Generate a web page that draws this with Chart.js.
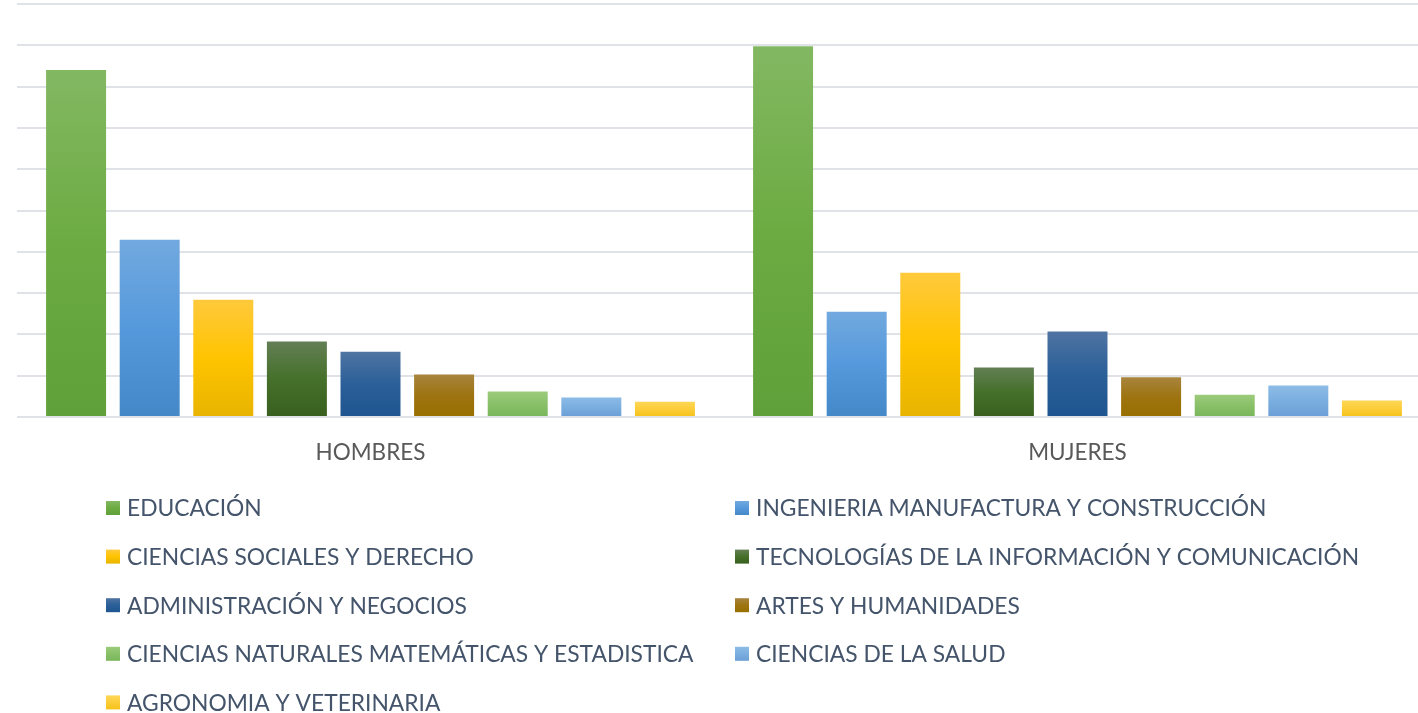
<!DOCTYPE html>
<html>
<head>
<meta charset="utf-8">
<script src="https://cdn.jsdelivr.net/npm/chart.js@4"></script>
<style>
  html, body { margin: 0; padding: 0; background: #fff; overflow: hidden; }
  #wrap { width: 1440px; height: 713px; position: relative; }
</style>
</head>
<body>
<div id="wrap"><canvas id="chart"></canvas></div>
<script>
const categories = ['HOMBRES', 'MUJERES'];

const seriesNames = [
  'EDUCACIÓN',
  'INGENIERIA MANUFACTURA Y CONSTRUCCIÓN',
  'CIENCIAS SOCIALES Y DERECHO',
  'TECNOLOGÍAS DE LA INFORMACIÓN Y COMUNICACIÓN',
  'ADMINISTRACIÓN Y NEGOCIOS',
  'ARTES Y HUMANIDADES',
  'CIENCIAS NATURALES MATEMÁTICAS Y ESTADISTICA',
  'CIENCIAS DE LA SALUD',
  'AGRONOMIA Y VETERINARIA'
];

// values per series: [HOMBRES, MUJERES]
const educacion = [84.0, 89.8];
const ingenieria = [42.9, 25.5];
const socialesDerecho = [28.4, 34.9];
const tecnologias = [18.3, 12.0];
const administracion = [15.8, 20.7];
const artes = [10.3, 9.6];
const naturales = [6.2, 5.4];
const salud = [4.7, 7.6];
const agronomia = [3.7, 4.0];

const seriesValues = [educacion, ingenieria, socialesDerecho, tecnologias, administracion, artes, naturales, salud, agronomia];

// gradient stops top -> middle -> bottom
const seriesColors = [
  ['#83b862', '#6cab42', '#60a03a'],
  ['#72a9df', '#5599dc', '#4488c8'],
  ['#ffc93c', '#ffc400', '#e8b400'],
  ['#637f55', '#45702a', '#385f1f'],
  ['#4f74a2', '#2a5f98', '#1f5590'],
  ['#a8843e', '#9d7410', '#986f00'],
  ['#9ccb7b', '#88c068', '#79b65a'],
  ['#8cbbe6', '#7aaee0', '#6b9fd6'],
  ['#ffd657', '#fccd38', '#f4c21a']
];

function barGradient(stops) {
  return function (context) {
    const chart = context.chart;
    const area = chart.chartArea;
    if (!area || context.parsed === undefined) return stops[1];
    const y = chart.scales.y;
    const top = y.getPixelForValue(context.parsed.y);
    const bottom = y.getPixelForValue(0);
    if (!isFinite(top) || bottom - top < 1) return stops[1];
    const g = chart.ctx.createLinearGradient(0, top, 0, bottom);
    g.addColorStop(0, stops[0]);
    g.addColorStop(0.5, stops[1]);
    g.addColorStop(1, stops[2]);
    return g;
  };
}

const legendFont = '22.8px Lato';
const legendColor = '#44546a';

// two-column legend drawn under the plot
const columnLegend = {
  id: 'columnLegend',
  afterDraw(chart) {
    const ctx = chart.ctx;
    const colX = [106, 735];
    const rowY0 = 508;
    const rowStep = 48.6;
    const box = 14;
    ctx.save();
    ctx.font = legendFont;
    ctx.fillStyle = legendColor;
    ctx.textBaseline = 'middle';
    chart.data.datasets.forEach((ds, i) => {
      const x = colX[i % 2];
      const y = rowY0 + Math.floor(i / 2) * rowStep;
      const stops = seriesColors[i];
      const g = ctx.createLinearGradient(0, y - box / 2, 0, y + box / 2);
      g.addColorStop(0, stops[0]);
      g.addColorStop(0.5, stops[1]);
      g.addColorStop(1, stops[2]);
      ctx.fillStyle = g;
      ctx.fillRect(x, y - box / 2, box, box);
      ctx.fillStyle = legendColor;
      ctx.fillText(ds.label, x + 21, y + 1);
    });
    ctx.restore();
  }
};

const chart = new Chart(document.getElementById('chart'), {
  type: 'bar',
  data: {
    labels: categories,
    datasets: seriesNames.map((name, i) => ({
      label: name,
      data: seriesValues[i],
      backgroundColor: barGradient(seriesColors[i]),
      borderWidth: 0,
      categoryPercentage: 0.937,
      barPercentage: 0.815
    }))
  },
  options: {
    responsive: true,
    maintainAspectRatio: false,
    animation: false,
    layout: {
      padding: { left: 17, right: 9, top: 4, bottom: 225 }
    },
    plugins: {
      legend: { display: false },
      tooltip: { enabled: false }
    },
    scales: {
      x: {
        grid: { display: false, drawTicks: false },
        border: { display: false },
        ticks: {
          color: '#595959',
          font: { family: 'Lato', size: 22.5 },
          padding: 22
        }
      },
      y: {
        min: 0,
        max: 100,
        ticks: { display: false, stepSize: 10 },
        grid: { color: '#dfe3e8', lineWidth: 2, drawTicks: false },
        border: { display: false }
      }
    }
  },
  plugins: [columnLegend]
});
</script>
</body>
</html>
